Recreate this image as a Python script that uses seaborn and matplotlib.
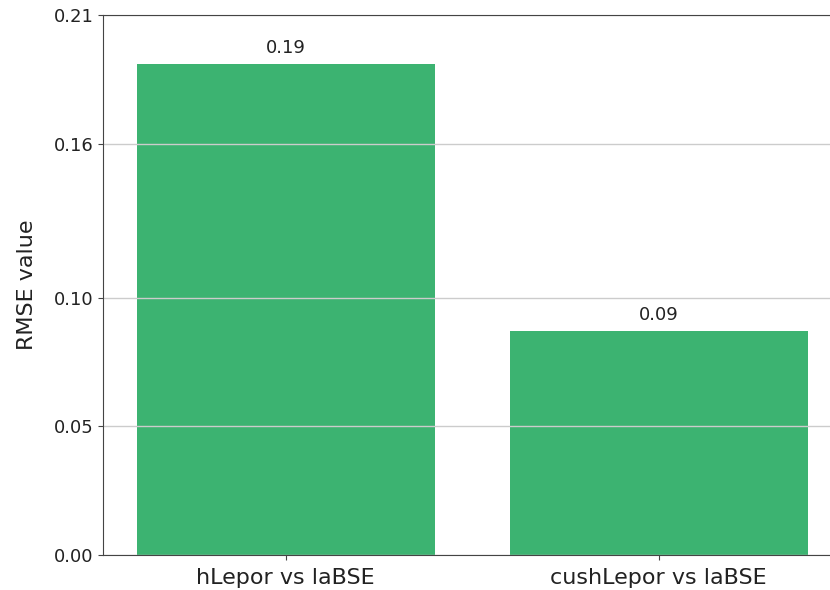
import numpy as np
import pandas as pd
import matplotlib
matplotlib.use("Agg")
import matplotlib.pyplot as plt
import seaborn as sns

# RMSE values
pairs = ["hLepor vs laBSE", "cushLepor vs laBSE"]
rmse = [0.191, 0.087]
ytick_vals = [0.0, 0.05, 0.10, 0.16, 0.21]

df = pd.DataFrame({"pair": pairs, "rmse": rmse})

fig = plt.figure(figsize=(8.3, 5.9), dpi=100)
# axes run past the right edge, like the cropped original
ax = fig.add_axes([103 / 830, 35 / 590, 746 / 830, 540 / 590])

sns.barplot(data=df, x="pair", y="rmse", color="#3cb371", saturation=1, width=0.8, ax=ax)

for c in ax.containers:
    ax.bar_label(c, fmt="%.2f", padding=5, fontsize=13, color="#222222")

ax.set_xlim(-0.49, 1.51)
ax.set_ylim(0, 0.21)
ax.set_yticks(ytick_vals)
ax.set_yticklabels([f"{v:.2f}" for v in ytick_vals])
ax.tick_params(axis="y", labelsize=13, labelcolor="#222222", color="#444444")
ax.tick_params(axis="x", labelsize=16, pad=6, labelcolor="#222222", color="#444444")
ax.set_xlabel("")
ax.set_ylabel("RMSE value", fontsize=16, labelpad=12, color="#222222")

# grid sits over the bars but under the spines
ax.grid(axis="y", color="#cccccc", linewidth=1)
ax.set_axisbelow("line")
for s in ax.spines.values():
    s.set_color("#444444")
    s.set_visible(True)

fig.savefig("out.png", dpi=100)
